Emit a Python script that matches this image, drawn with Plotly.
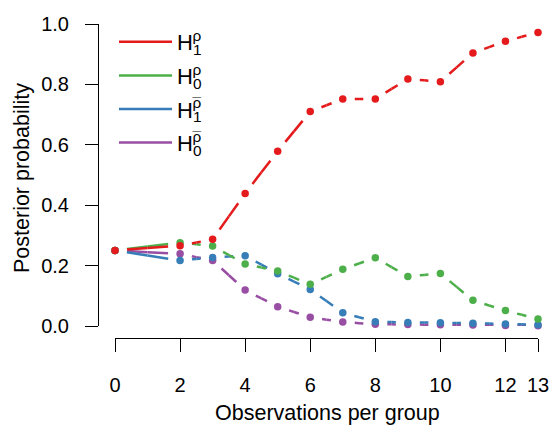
import plotly.graph_objects as go

# ---- data ----
obs = [0, 2, 3, 4, 5, 6, 7, 8, 9, 10, 11, 12, 13]
h1_rho = [0.25, 0.266, 0.287, 0.439, 0.579, 0.710, 0.752, 0.752, 0.818, 0.809, 0.904, 0.943, 0.972]
h0_rho = [0.25, 0.276, 0.265, 0.205, 0.182, 0.138, 0.188, 0.226, 0.164, 0.174, 0.085, 0.051, 0.023]
h1_rhobar = [0.25, 0.217, 0.227, 0.233, 0.173, 0.121, 0.044, 0.014, 0.012, 0.011, 0.009, 0.007, 0.004]
h0_rhobar = [0.25, 0.239, 0.217, 0.119, 0.064, 0.029, 0.013, 0.006, 0.005, 0.004, 0.003, 0.002, 0.001]
x_ticks = [0, 2, 4, 6, 8, 10, 12, 13]
y_ticks = [0.0, 0.2, 0.4, 0.6, 0.8, 1.0]
x_title = "Observations per group"
y_title = "Posterior probability"

SUBSP = "letter-spacing:-9px"
BARSP = "letter-spacing:-8.5px"
names = [
    f"H<sub><span style='{SUBSP}'>1</span></sub><sup>ρ</sup>",
    f"H<sub><span style='{SUBSP}'>0</span></sub><sup>ρ</sup>",
    f"H<sub><span style='{SUBSP}'>1</span></sub><sup><span style='{BARSP}'>¯</span>ρ</sup>",
    f"H<sub><span style='{SUBSP}'>0</span></sub><sup><span style='{BARSP}'>¯</span>ρ</sup>",
]
colors = ["#E41A1C", "#4DAF4A", "#377EB8", "#984EA3"]
series = [h1_rho, h0_rho, h1_rhobar, h0_rhobar]

FONT = "Liberation Sans, Arial, Helvetica, sans-serif"
W, H = 551, 428


def gapped(xs, ys):
    # each segment drawn as two half-paths running from the points toward
    # the segment middle, so a leading dash gap leaves room round each point
    sx, sy = [], []
    for i in range(len(xs) - 1):
        mx = (xs[i] + xs[i + 1]) / 2
        my = (ys[i] + ys[i + 1]) / 2
        sx += [xs[i], mx, None, xs[i + 1], mx, None]
        sy += [ys[i], my, None, ys[i + 1], my, None]
    return sx, sy


fig = go.Figure()
order = [3, 2, 1, 0]  # draw purple first, red on top
for k in order:
    sx, sy = gapped(obs, series[k])
    fig.add_trace(go.Scatter(
        x=sx, y=sy, mode="lines", connectgaps=False,
        line=dict(color=colors[k], width=2.5, dash="0px,12px,1000px"),
        showlegend=False, hoverinfo="skip"))
    fig.add_trace(go.Scatter(
        x=obs, y=series[k], mode="markers",
        marker=dict(color=colors[k], size=7.5, line=dict(width=0)),
        showlegend=False, cliponaxis=False))
for k in range(4):
    fig.add_trace(go.Scatter(
        x=[None], y=[None], mode="lines", name=names[k],
        legendgroup=f"g{k}",
        line=dict(color=colors[k], width=2.5), legendrank=k + 1))

fig.update_layout(
    width=W, height=H,
    margin=dict(l=0, r=0, t=0, b=0),
    paper_bgcolor="white", plot_bgcolor="white",
    font=dict(family=FONT, size=20, color="black"),
    showlegend=True,
    legend=dict(x=114 / W, y=1 - 21 / H, xanchor="left", yanchor="top",
                bgcolor="rgba(0,0,0,0)", font=dict(size=22),
                itemwidth=53, tracegroupgap=2),
    xaxis=dict(
        domain=[115 / W, 538 / W], range=[0, 13], automargin=False,
        anchor="free", position=(H - 338) / H,
        tickvals=x_ticks, ticktext=[str(v) for v in x_ticks],
        showline=True, linecolor="black", linewidth=1,
        ticks="outside", ticklen=13, tickwidth=1, tickcolor="black",
        ticklabelstandoff=16,
        showgrid=False, zeroline=False,
    ),
    yaxis=dict(
        domain=[(H - 326) / H, (H - 24) / H], range=[0, 1], automargin=False,
        anchor="free", position=98 / W,
        tickvals=y_ticks, ticktext=[f"{v:.1f}" for v in y_ticks],
        showline=True, linecolor="black", linewidth=1,
        ticks="outside", ticklen=13, tickwidth=1, tickcolor="black",
        ticklabelstandoff=12,
        showgrid=False, zeroline=False,
    ),
    annotations=[
        dict(text=x_title, xref="paper", yref="paper",
             x=327 / W, y=(H - 413) / H, xanchor="center", yanchor="middle",
             showarrow=False, font=dict(size=21.5)),
        dict(text=y_title, xref="paper", yref="paper", textangle=-90,
             x=22 / W, y=(H - 178) / H, xanchor="center", yanchor="middle",
             showarrow=False, font=dict(size=21.5)),
    ],
)

fig.write_html("out.html")
